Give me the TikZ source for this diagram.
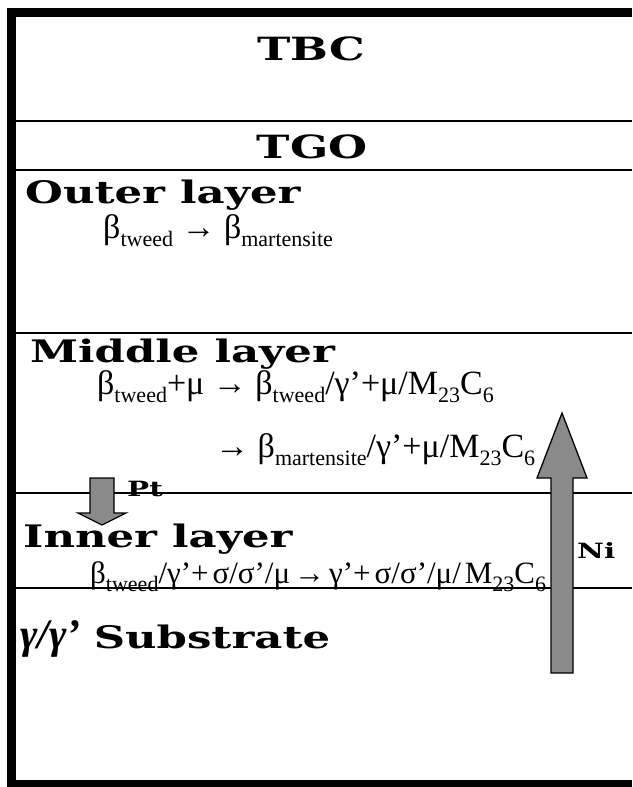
\documentclass[tikz,border=0pt]{standalone}
\usepackage{fontspec}
\setmainfont{Liberation Serif}
\newfontfamily\headfont[FakeStretch=1.4]{DejaVu Serif}
\usepackage{tikz}
\usetikzlibrary{positioning}
\definecolor{arrgray}{RGB}{138,138,138}
\definecolor{framedark}{RGB}{0,0,0}
\newcommand{\lowsub}[1]{\raisebox{-8pt}{\fontsize{22}{22}\selectfont #1}}
\newcommand{\nsp}{\hspace{4pt}}
\tikzset{
  heading/.style={inner sep=0pt, font=\headfont\bfseries\fontsize{31}{33}\selectfont},
  bigheading/.style={inner sep=0pt, font=\headfont\bfseries\fontsize{32}{34}\selectfont},
  reaction/.style={inner sep=0pt, font=\fontsize{34}{36}\selectfont},
  tightreaction/.style={inner sep=0pt, font=\fontsize{31}{33}\selectfont},
  flux/.style={inner sep=0pt, font=\headfont\bfseries\fontsize{21}{23}\selectfont},
  layerline/.style={line width=1.6pt, color=framedark},
  blockarrow/.style={draw=black, line width=1.3pt, fill=arrgray, line join=miter}
}

\begin{document}
\begin{tikzpicture}[x=1pt, y=-1pt]
  \useasboundingbox (0,0) rectangle (632,787);
  \fill[white] (0,0) rectangle (632,787);

  % Frame (open at the right)
  \fill[framedark] (7,8) rectangle (632,17);
  \fill[framedark] (7,8) rectangle (16,787);
  \fill[framedark] (7,780) rectangle (632,787);

  % Layer boundaries
  \draw[layerline] (16,121) -- (632,121);
  \draw[layerline] (16,170) -- (632,170);
  \draw[layerline] (16,333) -- (632,333);
  \draw[layerline] (16,493) -- (632,493);
  \draw[layerline] (16,588) -- (632,588);

  % TBC and TGO
  \node[bigheading, anchor=base] (tbc) at (311,60) {TBC};
  \node[bigheading, anchor=base] (tgo) at (312,158) {TGO};

  % Outer layer
  \node[heading, anchor=base west] (outer) at (25,203) {Outer layer};
  \node[reaction, anchor=base west] (outereq) at (103,238)
    {β\lowsub{tweed} → β\lowsub{martensite}};

  % Middle layer
  \node[heading, anchor=base west] (middle) at (30,362) {Middle layer};
  \node[reaction, anchor=base west] (middleeqa) at (97,394)
    {β\lowsub{tweed}+μ → β\lowsub{tweed}/γ’+μ/M\lowsub{23}C\lowsub{6}};
  \node[reaction, anchor=base west] (middleeqb) at (215,457)
    {→ β\lowsub{martensite}/γ’+μ/M\lowsub{23}C\lowsub{6}};

  % Inner layer
  \node[heading, anchor=base west] (inner) at (23,547) {Inner layer};
  \node[tightreaction, anchor=base west] (innereq) at (90,583)
    {β\lowsub{tweed}/γ’+\nsp σ/σ’/μ\nsp→\nsp γ’+\nsp σ/σ’/μ/\nsp M\lowsub{23}C\lowsub{6}};

  % Substrate
  \node[heading, anchor=base west] (substrate) at (20,648)
    {{\normalfont\bfseries\itshape\fontsize{42}{44}\selectfont γ/γ’}\hspace{13pt}Substrate};

  % Pt flux (down)
  \draw[blockarrow] (90,478) -- (114,478) -- (114,513) -- (126,513)
    -- (102,525) -- (78,513) -- (90,513) -- cycle;
  \node[flux, anchor=base west] (pt) at (127,496) {Pt};

  % Ni flux (up)
  \draw[blockarrow] (551,673) -- (551,478) -- (537,478) -- (562,413)
    -- (587,478) -- (573,478) -- (573,673) -- cycle;
  \node[flux, anchor=base west] (ni) at (577,558) {Ni};
\end{tikzpicture}
\end{document}
